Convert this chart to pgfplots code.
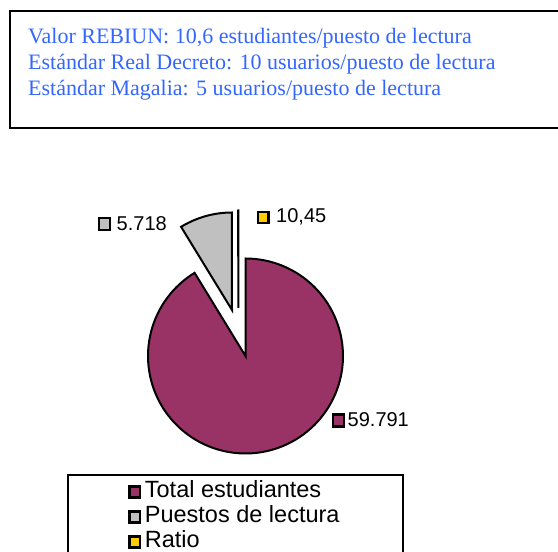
\documentclass[border=0pt]{standalone}
\usepackage{pgfplots}
\pgfplotsset{compat=1.18}
\usepackage{pgfplotstable}
\usepackage{fontspec}
\setmainfont{Liberation Sans}
\newfontfamily\timesfont{Liberation Serif}
\definecolor{maroonc}{RGB}{153,51,102}
\definecolor{greyc}{RGB}{192,192,192}
\definecolor{yellowc}{RGB}{255,204,0}
\definecolor{bluetext}{RGB}{51,102,255}

\pgfplotstableread{
name value
Total 59791
Puestos 5718
Ratio 10.45
}\piedata
\pgfplotstablegetelem{0}{value}\of\piedata \let\vA\pgfplotsretval
\pgfplotstablegetelem{1}{value}\of\piedata \let\vB\pgfplotsretval
\pgfplotstablegetelem{2}{value}\of\piedata \let\vC\pgfplotsretval
\edef\aA{\fpeval{360*\vA/(\vA+\vB+\vC)}}
\edef\aB{\fpeval{360*(\vA+\vB)/(\vA+\vB+\vC)}}

\begin{document}
\begin{tikzpicture}
\begin{axis}[
  at={(0,0)}, anchor=south west,
  x=1pt, y=1pt, xmin=0, xmax=558, ymin=0, ymax=552,
  hide axis, clip=false, no markers,
  legend style={at={(axis description cs:0.12007,0.1413)}, anchor=north west,
    draw=black, line width=2pt, font=\fontsize{23.5}{25}\selectfont,
    inner xsep=60pt, inner ysep=4.5pt, row sep=0pt,
    nodes={text height=17.5pt, text depth=6.5pt, inner ysep=0.5pt, inner xsep=3.5pt}},
  legend cell align=left,
  legend image code/.code={\draw[#1, draw=black, line width=2.6pt] (2.6pt,-5.4pt) rectangle (13.4pt,5.4pt);},
]
% Total estudiantes
\addplot[fill=maroonc, draw=black, line width=2pt, line join=miter, domain=0:\aA, samples=120]
  ({245.5+97.5*sin(x)},{196+97.5*cos(x)}) -- (245.5,196) -- cycle;
\addlegendentry{Total estudiantes}
% Puestos de lectura (exploded)
\addplot[fill=greyc, draw=black, line width=2pt, line join=miter, domain=\aA:\aB, samples=20]
  ({232+97.5*sin(x)},{242+97.5*cos(x)}) -- (232,242) -- cycle;
\addlegendentry{Puestos de lectura}
% Ratio (exploded)
\addplot[fill=yellowc, draw=black, line width=2pt, line join=miter, domain=\aB:360, samples=2]
  ({238.3+97.5*sin(x)},{244+97.5*cos(x)}) -- (238.3,244) -- cycle;
\addlegendentry{Ratio}

% data labels
\draw[fill=greyc, draw=black, line width=2.6pt] (99,322) rectangle (110,334);
\node[anchor=base west, inner sep=0pt, font=\fontsize{20}{24}\selectfont] at (116.5,321) {5.718};
\draw[fill=yellowc, draw=black, line width=2.6pt] (258,329) rectangle (268.6,340);
\node[anchor=base west, inner sep=0pt, font=\fontsize{20}{24}\selectfont] at (276,329) {10,45};
\draw[fill=maroonc, draw=black, line width=2.6pt] (333,125.5) rectangle (344,137.5);
\node[anchor=base west, inner sep=0pt, font=\fontsize{20}{24}\selectfont] at (347.5,125) {59.791};

% top text box
\draw[line width=2pt] (10,424) rectangle (565,541);
\begin{scope}[every node/.style={anchor=base west, inner sep=0pt, text=bluetext, font=\timesfont\fontsize{22}{26}\selectfont}]
\node at (28,508) {Valor REBIUN: 10,6 estudiantes/puesto de lectura};
\node at (28,482) {Estándar Real Decreto: 10 usuarios/puesto de lectura};
\node at (28,456) {Estándar Magalia: 5 usuarios/puesto de lectura};
\end{scope}
\end{axis}
\pgfresetboundingbox
\useasboundingbox (0,0) rectangle (558pt,552pt);
\end{tikzpicture}
\end{document}
